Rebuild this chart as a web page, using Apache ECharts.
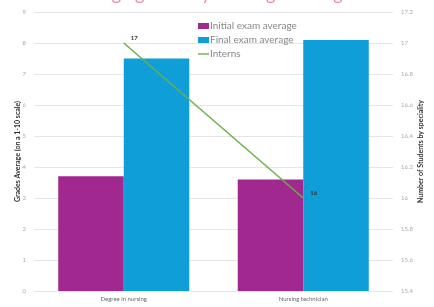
<!DOCTYPE html>
<html>
<head>
<meta charset="utf-8">
<script src="https://cdn.jsdelivr.net/npm/echarts@6/dist/echarts.min.js"></script>
<style>
  html, body { margin: 0; padding: 0; background: #fff; }
  #main { width: 434px; height: 307px; }
</style>
</head>
<body>
<div id="main"></div>
<script>
var categories = ['Degree in nursing', 'Nursing technician'];
var initialAvg = [3.7, 3.6];
var finalAvg = [7.5, 8.1];
var interns = [17, 16];

var myChart = echarts.init(document.getElementById('main'));

var option = {
    animation: false,
    textStyle: { fontFamily: 'Lato, sans-serif' },
    title: {
        text: 'Average grades by training and degree',
        left: 'center',
        top: -20,
        textStyle: { color: '#e58aae', fontSize: 18, fontWeight: 'normal' }
    },
    grid: { left: 34, right: 41, top: 12, bottom: 16 },
    legend: {
        orient: 'vertical',
        left: 193,
        top: 16,
        itemWidth: 11,
        itemHeight: 6,
        itemGap: 4,
        textStyle: { color: '#888', fontSize: 10, padding: [0, 0, 0, -4] },
        data: [
            { name: 'Initial exam average', icon: 'rect' },
            { name: 'Final exam average', icon: 'rect' },
            { name: 'Interns', icon: 'path://M0,4.5 L12,4.5 L12,6 L0,6 Z' }
        ]
    },
    xAxis: {
        type: 'category',
        data: categories,
        axisLine: { show: false },
        axisTick: { show: false },
        axisLabel: { color: '#666', fontSize: 6, margin: 5 }
    },
    yAxis: [{
        type: 'value',
        min: 0,
        max: 9,
        interval: 1,
        name: 'Grades Average (on a 1-10 scale)',
        nameLocation: 'middle',
        nameGap: 13,
        nameMoveOverlap: false,
        nameTextStyle: { color: '#333', fontSize: 7, fontWeight: 'bold' },
        axisLabel: { color: '#aaa', fontSize: 6, margin: 8 },
        splitLine: { lineStyle: { color: '#e6e6e6' } }
    }, {
        type: 'value',
        min: 15.4,
        max: 17.2,
        interval: 0.2,
        name: 'Number of Students by speciality',
        nameLocation: 'middle',
        nameGap: 24,
        nameRotate: 90,
        nameMoveOverlap: false,
        nameTextStyle: { color: '#333', fontSize: 7, fontWeight: 'bold' },
        axisLabel: { color: '#aaa', fontSize: 6, margin: 8 },
        splitLine: { show: false }
    }],
    series: [{
        name: 'Initial exam average',
        type: 'bar',
        data: initialAvg,
        barGap: 0,
        barCategoryGap: '27%',
        itemStyle: { color: '#a0288f' }
    }, {
        name: 'Final exam average',
        type: 'bar',
        data: finalAvg,
        itemStyle: { color: '#0f9ed8' }
    }, {
        name: 'Interns',
        type: 'line',
        yAxisIndex: 1,
        data: interns,
        symbol: 'circle',
        symbolSize: 0.1,
        lineStyle: { color: '#6ab04c', width: 1.5 },
        itemStyle: { color: '#6ab04c' },
        label: {
            show: true,
            position: 'right',
            distance: 7,
            offset: [0, -5],
            color: '#333',
            fontSize: 6,
            fontWeight: 'bold'
        }
    }]
};

myChart.setOption(option);
</script>
</body>
</html>
